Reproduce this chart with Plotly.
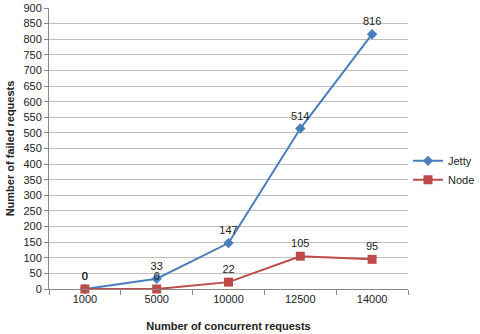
import plotly.graph_objects as go

categories = ["1000", "5000", "10000", "12500", "14000"]
jetty = [0, 33, 147, 514, 816]
node = [0, 0, 22, 105, 95]
y_ticks = list(range(0, 901, 50))

fig = go.Figure()
fig.add_trace(go.Scatter(
    x=categories, y=jetty, name="Jetty", mode="lines+markers+text",
    text=[str(v) for v in jetty], textposition="top center",
    textfont=dict(size=11, color="#222"),
    line=dict(color="#4a7ebb", width=2),
    marker=dict(symbol="diamond", size=8, color="#4a7ebb"),
    cliponaxis=False,
))
fig.add_trace(go.Scatter(
    x=categories, y=node, name="Node", mode="lines+markers+text",
    text=[str(v) for v in node], textposition="top center",
    textfont=dict(size=11, color="#222"),
    line=dict(color="#be4b48", width=2),
    marker=dict(symbol="square", size=9, color="#be4b48"),
    cliponaxis=False,
))

fig.update_layout(
    width=480, height=334,
    margin=dict(l=49, r=72, t=8, b=45),
    paper_bgcolor="white", plot_bgcolor="white",
    font=dict(family="Liberation Sans, Arial, sans-serif", size=11, color="#222"),
    legend=dict(xref="container", yref="container", x=0.85, y=0.49,
                yanchor="middle", xanchor="left",
                font=dict(size=11), bgcolor="rgba(0,0,0,0)",
                itemwidth=30, tracegroupgap=2),
    showlegend=True,
)
fig.update_xaxes(
    type="category", range=[-0.5, 4.5], showgrid=False, showline=True, linecolor="#888", linewidth=1,
    ticks="outside", tickson="boundaries", ticklen=5, tickcolor="#888",
    title=dict(text="<b>Number of concurrent requests</b>", font=dict(size=11), standoff=18),
    tickfont=dict(size=11), automargin=False,
)
fig.update_yaxes(
    range=[0, 900], tickvals=y_ticks, showgrid=True, gridcolor="#c0c0c0", gridwidth=1,
    showline=True, linecolor="#888", linewidth=1, ticks="outside", ticklen=4, tickcolor="#888",
    zeroline=False,
    title=dict(text="<b>Number of failed requests</b>", font=dict(size=11), standoff=6),
    tickfont=dict(size=11), automargin=False,
)

fig.write_html("out.html")
